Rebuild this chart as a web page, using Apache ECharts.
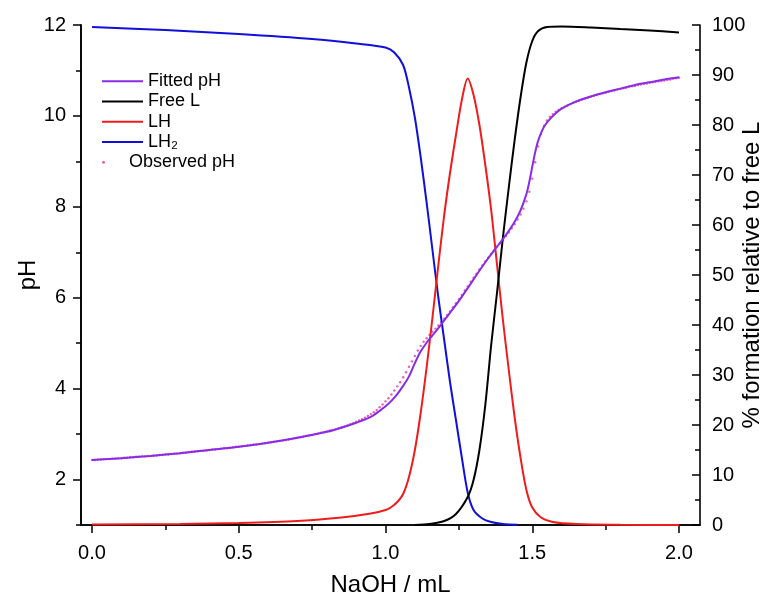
<!DOCTYPE html>
<html>
<head>
<meta charset="utf-8">
<script src="https://cdn.jsdelivr.net/npm/echarts@6/dist/echarts.min.js"></script>
<style>
  html, body { margin: 0; padding: 0; background: #ffffff; }
  #chart { width: 779px; height: 602px; }
</style>
</head>
<body>
<div id="chart"></div>
<script>
const FONT = '"Liberation Sans", Arial, Helvetica, sans-serif';

// Fitted titration curve: volume of NaOH (mL) and pH
const fitVol = [0, 0.1, 0.2, 0.3, 0.4, 0.5, 0.6, 0.7, 0.8, 0.85, 0.9, 0.95, 0.98, 1.0, 1.02, 1.04, 1.06, 1.08,
  1.1, 1.12, 1.14, 1.16, 1.18, 1.2, 1.22, 1.25, 1.28, 1.31, 1.34, 1.37, 1.4, 1.42, 1.44, 1.46, 1.48, 1.49,
  1.5, 1.51, 1.52, 1.54, 1.56, 1.58, 1.6, 1.65, 1.7, 1.75, 1.8, 1.85, 1.9, 1.95, 2.0];
const fitPH = [2.43, 2.47, 2.52, 2.58, 2.65, 2.72, 2.81, 2.92, 3.05, 3.14, 3.25, 3.38, 3.51, 3.61, 3.73, 3.88, 4.06, 4.27,
  4.56, 4.82, 5.01, 5.17, 5.33, 5.5, 5.67, 5.93, 6.21, 6.5, 6.78, 7.04, 7.29, 7.47, 7.67, 7.92, 8.28, 8.55,
  8.88, 9.2, 9.45, 9.76, 9.93, 10.06, 10.16, 10.32, 10.43, 10.52, 10.6, 10.68, 10.74, 10.8, 10.85];

// Observed pH, one reading every 0.01 mL from 0.00 mL
const obsStartVol = 0;
const obsStepVol = 0.01;
const obsPH = [
  2.43, 2.43, 2.44, 2.44, 2.45, 2.45, 2.45, 2.46, 2.46, 2.47,
  2.47, 2.48, 2.48, 2.49, 2.49, 2.50, 2.50, 2.51, 2.51, 2.52,
  2.52, 2.53, 2.53, 2.54, 2.54, 2.55, 2.55, 2.56, 2.57, 2.57,
  2.58, 2.59, 2.59, 2.60, 2.61, 2.61, 2.62, 2.63, 2.63, 2.64,
  2.65, 2.66, 2.66, 2.67, 2.68, 2.69, 2.69, 2.70, 2.71, 2.72,
  2.72, 2.73, 2.74, 2.75, 2.76, 2.77, 2.77, 2.78, 2.79, 2.80,
  2.81, 2.82, 2.83, 2.84, 2.85, 2.86, 2.87, 2.88, 2.89, 2.91,
  2.92, 2.93, 2.94, 2.96, 2.97, 2.98, 3.00, 3.01, 3.03, 3.04,
  3.06, 3.08, 3.09, 3.11, 3.13, 3.15, 3.17, 3.19, 3.22, 3.24,
  3.27, 3.30, 3.33, 3.36, 3.40, 3.44, 3.48, 3.53, 3.59, 3.65,
  3.72, 3.79, 3.87, 3.96, 4.05, 4.14, 4.25, 4.36, 4.48, 4.60,
  4.72, 4.84, 4.94, 5.03, 5.11, 5.18, 5.25, 5.32, 5.39, 5.46,
  5.54, 5.62, 5.70, 5.79, 5.88, 5.97, 6.06, 6.16, 6.25, 6.35,
  6.44, 6.53, 6.62, 6.71, 6.80, 6.88, 6.96, 7.04, 7.12, 7.20,
  7.28, 7.36, 7.44, 7.53, 7.62, 7.72, 7.83, 7.96, 8.12, 8.33,
  8.62, 8.98, 9.33, 9.60, 9.78, 9.90, 9.98, 10.04, 10.09, 10.13,
  10.17, 10.20, 10.23, 10.26, 10.29, 10.31, 10.34, 10.36, 10.38, 10.40,
  10.42, 10.44, 10.46, 10.48, 10.50, 10.51, 10.53, 10.55, 10.56, 10.58,
  10.59, 10.61, 10.62, 10.64, 10.65, 10.66, 10.68, 10.69, 10.70, 10.71,
  10.73, 10.74, 10.75, 10.76, 10.77, 10.78, 10.79, 10.80, 10.82, 10.83,
  10.84
];

// Species distribution (% relative to total L)
const lVol = [1.10, 1.15, 1.2, 1.24, 1.28, 1.30, 1.32, 1.34, 1.36, 1.38, 1.40, 1.42, 1.44, 1.46, 1.48,
  1.50, 1.52, 1.55, 1.6, 1.7, 1.8, 1.9, 2.0];
const lPct = [0, 0.2, 0.8, 2.2, 5.6, 9, 15, 24, 36, 46.5, 57.5, 67.5, 77, 85.5, 92.5,
  96.8, 98.8, 99.6, 99.7, 99.5, 99.2, 98.9, 98.5];

const lhVol = [0, 0.3, 0.5, 0.7, 0.85, 0.95, 1.0, 1.02, 1.04, 1.06, 1.08, 1.1, 1.12, 1.14, 1.16, 1.18, 1.2,
  1.22, 1.24, 1.26, 1.28, 1.30, 1.32, 1.34, 1.36, 1.38, 1.40, 1.42, 1.44, 1.46, 1.48, 1.50, 1.53,
  1.57, 1.65, 1.8, 2.0];
const lhPct = [0.1, 0.2, 0.4, 0.8, 1.5, 2.3, 3.0, 3.6, 4.6, 6.2, 9.6, 15, 22.5, 31.5, 41.5, 52, 62,
  70.5, 78, 85, 89.3, 86, 80, 72, 63, 52, 41, 31, 21.5, 13.5, 7, 3.5, 1.5,
  0.6, 0.2, 0.05, 0];

const lh2Vol = [0, 0.25, 0.5, 0.75, 0.9, 1.0, 1.03, 1.06, 1.08, 1.1, 1.12, 1.14, 1.16, 1.18, 1.2,
  1.22, 1.24, 1.26, 1.28, 1.30, 1.33, 1.36, 1.40, 1.45];
const lh2Pct = [99.6, 99.0, 98.2, 97.2, 96.3, 95.5, 94.5, 92, 87.5, 81.5, 73.5, 64.5, 55, 45.5, 37,
  28.5, 21, 13.5, 6.5, 3, 1.3, 0.6, 0.2, 0.05];

// Axis ticks
const volTicks = [0, 0.5, 1.0, 1.5, 2.0];
const volMinorTicks = [0.25, 0.75, 1.25, 1.75];
const phTicks = [2, 4, 6, 8, 10, 12];
const phMinorTicks = [1, 3, 5, 7, 9, 11];

function pairs(xs, ys) { return xs.map((x, i) => [x, ys[i]]); }
const obsData = obsPH.map((v, i) => [obsStartVol + i * obsStepVol, v]);

const AXIS_LINE = { show: true, onZero: false, lineStyle: { color: '#000', width: 1.6 } };
const TICK_STYLE = { color: '#000', width: 1.5 };
const LABEL = { color: '#000', fontSize: 20, fontFamily: FONT };
const NAME = { color: '#000', fontSize: 24, fontFamily: FONT };
const LEGEND_TEXT = { color: '#000', fontSize: 18, fontFamily: FONT, lineHeight: 20.3 };

const chart = echarts.init(document.getElementById('chart'), null, { renderer: 'canvas' });
chart.setOption({
  animation: false,
  backgroundColor: '#ffffff',
  grid: { left: 81, right: 79, top: 25, bottom: 77, containLabel: false, outerBoundsMode: 'none' },
  xAxis: [
    {
      type: 'value', position: 'bottom', min: -0.0375, max: 2.0715,
      name: 'NaOH / mL', nameLocation: 'middle', nameGap: 48, nameMoveOverlap: false, nameTextStyle: NAME,
      axisLine: AXIS_LINE,
      axisTick: { show: true, inside: false, length: 8, customValues: volTicks, lineStyle: TICK_STYLE },
      axisLabel: Object.assign({ margin: 18, customValues: volTicks, formatter: v => v.toFixed(1) }, LABEL),
      splitLine: { show: false }
    },
    {
      type: 'value', position: 'bottom', min: -0.0375, max: 2.0715,
      axisLine: AXIS_LINE,
      axisTick: { show: true, inside: false, length: 5, customValues: volMinorTicks, lineStyle: TICK_STYLE },
      axisLabel: { show: false },
      splitLine: { show: false }
    }
  ],
  yAxis: [
    {
      type: 'value', position: 'left', min: 1, max: 12,
      name: 'pH', nameLocation: 'middle', nameGap: 41, nameRotate: 90, nameMoveOverlap: false,
      nameTextStyle: NAME,
      axisLine: AXIS_LINE,
      axisTick: { show: true, inside: false, length: 8, customValues: phTicks, lineStyle: TICK_STYLE },
      axisLabel: Object.assign({ margin: 15, customValues: phTicks }, LABEL),
      splitLine: { show: false }
    },
    {
      type: 'value', position: 'right', min: 0, max: 100, interval: 10,
      name: '% formation relative to free L', nameLocation: 'middle', nameGap: 40, nameRotate: 90,
      nameMoveOverlap: false, nameTextStyle: NAME,
      axisLine: AXIS_LINE,
      axisTick: { show: true, inside: true, length: 8, lineStyle: TICK_STYLE },
      minorTick: { show: true, splitNumber: 2, length: 5, lineStyle: TICK_STYLE },
      axisLabel: Object.assign({ margin: 12 }, LABEL),
      splitLine: { show: false },
      minorSplitLine: { show: false }
    },
    {
      type: 'value', position: 'left', min: 1, max: 12,
      axisLine: AXIS_LINE,
      axisTick: { show: true, inside: false, length: 5, customValues: phMinorTicks, lineStyle: TICK_STYLE },
      axisLabel: { show: false },
      splitLine: { show: false }
    }
  ],
  legend: [
    {
      data: ['Fitted pH', 'Free L', 'LH', 'LH₂'],
      orient: 'vertical', left: 102, top: 71, padding: 0,
      icon: 'rect', itemWidth: 41, itemHeight: 2, itemGap: 0,
      textStyle: LEGEND_TEXT
    },
    {
      data: ['Observed pH'],
      orient: 'vertical', left: 102, top: 152, padding: 0,
      icon: 'circle', itemWidth: 41, itemHeight: 3, itemGap: 0,
      textStyle: LEGEND_TEXT
    }
  ],
  series: [
    {
      name: 'LH₂', type: 'line', xAxisIndex: 0, yAxisIndex: 1,
      data: pairs(lh2Vol, lh2Pct), smooth: 0.3, symbol: 'none',
      lineStyle: { color: '#1010d8', width: 2 }, itemStyle: { color: '#1010d8' }
    },
    {
      name: 'LH', type: 'line', xAxisIndex: 0, yAxisIndex: 1,
      data: pairs(lhVol, lhPct), smooth: 0.3, symbol: 'none',
      lineStyle: { color: '#ee1c1c', width: 2 }, itemStyle: { color: '#ee1c1c' }
    },
    {
      name: 'Free L', type: 'line', xAxisIndex: 0, yAxisIndex: 1,
      data: pairs(lVol, lPct), smooth: 0.3, symbol: 'none',
      lineStyle: { color: '#000000', width: 2 }, itemStyle: { color: '#000000' }
    },
    {
      name: 'Fitted pH', type: 'line', xAxisIndex: 0, yAxisIndex: 0,
      data: pairs(fitVol, fitPH), smooth: 0.3, symbol: 'none',
      lineStyle: { color: '#8a2be8', width: 2 }, itemStyle: { color: '#8a2be8' }
    },
    {
      name: 'Observed pH', type: 'scatter', xAxisIndex: 0, yAxisIndex: 0,
      data: obsData, symbol: 'circle', symbolSize: 2.4,
      itemStyle: { color: '#e43c9c' }
    }
  ]
});
</script>
</body>
</html>
